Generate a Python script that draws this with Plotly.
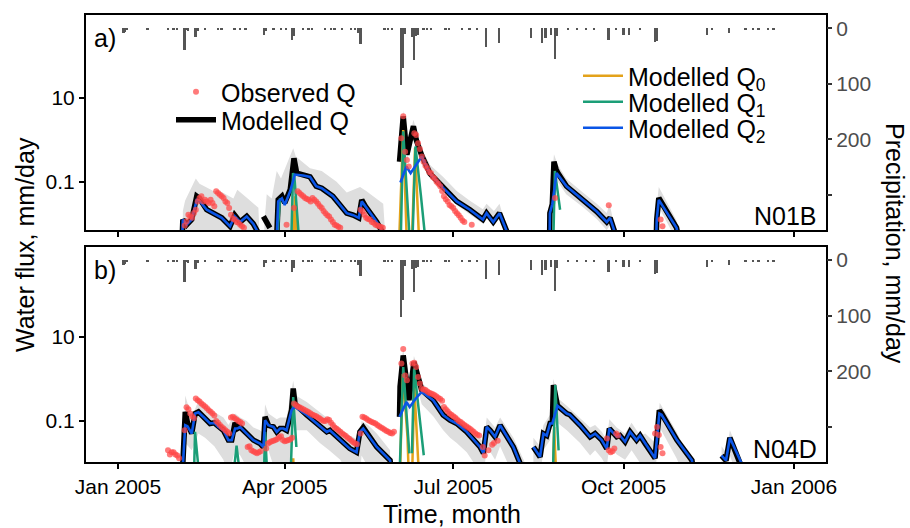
import plotly.graph_objects as go
import pandas as pd

BASE = pd.Timestamp("2005-01-01")

# ---------------- data (days counted from 1 Jan 2005) ----------------
tick_dates = ["2005-01-01", "2005-04-01", "2005-07-01", "2005-10-01", "2006-01-01"]
tick_labels = ["Jan 2005", "Apr 2005", "Jul 2005", "Oct 2005", "Jan 2006"]

precip_day = [3, 4, 5, 16, 27, 30, 32, 36, 37, 38, 42, 43, 47, 54, 56, 63, 66, 69, 79, 80, 84, 88, 91,
              94, 95, 100, 103, 105, 112, 115, 117, 121, 126, 128, 130, 131, 144, 146, 148, 153, 154,
              155, 159, 160, 161, 162, 165, 167, 169, 177, 179, 186, 190, 194, 199, 206, 223, 229, 231,
              234, 236, 237, 243, 248, 253, 257, 265, 269, 273, 276, 282, 290, 291, 318, 321, 330, 339,
              343, 346, 351, 354]
precip_mm = [9, 7, 3, 2, 2, 2, 2, 39, 3, 4, 15, 4, 2, 2, 2, 2, 2, 2, 12, 4, 2, 2, 2,
             21, 14, 3, 2, 2, 2, 3, 2, 2, 2, 3, 8, 28, 2, 3, 2, 102, 72,
             10, 15, 57, 14, 12, 2, 3, 2, 2, 3, 2, 3, 2, 33, 26, 18, 27, 18,
             12, 55, 14, 2, 2, 2, 3, 21, 3, 12, 12, 3, 24, 22, 12, 2, 8, 2,
             2, 2, 3, 2]

# ----- panel a: N01B -----
qa_day = [34.5, 35, 37, 39.8, 42.5, 44, 47.9, 51.5, 56, 60.5, 63, 65.9, 69.5, 73, 75.8, None,
          78.5, 82, None,
          85.5, 86.5, 88.5, 90, 93, 95, 96.5, 100, 103.7, 107, 110, 116, 123.5, 127, 130, 131.6, 133.5, 139.7, 144, None,
          152, 154, 156, 159.5, 161, 164, 168.5, 175.6, 182.9, 190, 197, 199, 202.6, 206, 211, None,
          233, 233.2, 234.5, 235.4, 236.5, 237.5, 242.2, 251, 258.5, 263.9, 265.7, 269, None,
          290.5, 290.9, 292, 301.6, 302.5]
qa_val = [0.003, 0.0126, 0.0094, 0.0126, 0.045, 0.04, 0.0215, 0.0178, 0.0138, 0.0087, 0.016, 0.011, 0.0149, 0.01, 0.006, None,
          0.0149, 0.008, None,
          0.003, 0.037, 0.045, 0.031, 0.065, 0.36, 0.16, 0.148, 0.13, 0.078, 0.07, 0.045, 0.0178, 0.016, 0.0138, 0.037, 0.0262, 0.011, 0.005, None,
          0.3, 3.6, 0.44, 2.1, 1.0, 0.42, 0.155, 0.071, 0.034, 0.0215, 0.0126, 0.0178, 0.011, 0.0178, 0.005, None,
          0.003, 0.0178, 0.029, 0.3, 0.2, 0.16, 0.078, 0.037, 0.0195, 0.011, 0.0138, 0.005, None,
          0.003, 0.0126, 0.041, 0.008, 0.005]

q2a_day = [34.5, 35, 37, 39.8, 42.5, 44, 47.9, 51.5, 56, 60.5, 63, 65.9, 69.5, 73, 75.8, None,
           85.5, 86.5, 88.5, 90, 93, 95.5, 100, 103.7, 107, 110, 116, 123.5, 127, 130, 131.6, 133.5, 139.7, 144, None,
           152.5, 155.7, 158, 164, 168.5, 175.6, 182.9, 190, 197, 199, 202.6, 206, 211, None,
           233, 233.2, 234.5, 236.8, 242.2, 251, 258.5, 263.9, 265.7, 269, None,
           290.5, 290.9, 292, 301.6, 302.5]
q2a_val = [0.003, 0.0126, 0.0094, 0.0126, 0.037, 0.035, 0.0215, 0.0178, 0.0138, 0.0087, 0.015, 0.011, 0.0149, 0.01, 0.006, None,
           0.003, 0.034, 0.04, 0.028, 0.06, 0.148, 0.14, 0.13, 0.078, 0.07, 0.045, 0.0178, 0.016, 0.0138, 0.034, 0.0262, 0.011, 0.005, None,
           0.096, 0.23, 0.16, 0.4, 0.155, 0.071, 0.034, 0.0215, 0.0126, 0.0178, 0.011, 0.0178, 0.005, None,
           0.003, 0.0178, 0.029, 0.16, 0.078, 0.037, 0.0195, 0.011, 0.0138, 0.005, None,
           0.003, 0.0126, 0.037, 0.008, 0.005]

q1a_day = [85.7, 87.5, None, 93.5, 94.5, 95.3, 97.3, 98, None, 152.6, 154, 157.7, None,
           158.9, 160.6, 163.5, 166.3, None, 235, 235.9, 238.7]
q1a_val = [0.003, 0.04, None, 0.003, 0.16, 0.12, 0.011, 0.003, None, 0.003, 1.58, 0.003, None,
           0.003, 0.69, 0.049, 0.003, None, 0.003, 0.18, 0.0215]

q0a_day = [94.5, 95.6, 96.6, None, 151.7, 154, 156, None, 158.6, 160.4, 162.7]
q0a_val = [0.003, 0.045, 0.003, None, 0.003, 1.7, 0.003, None, 0.003, 0.63, 0.003]

obsa_day = [*range(36, 69), 91, 95, *range(97, 121), *range(131, 144),
            153, 154, 155, 156, 157, *range(160, 188), 191, 236, 265, 293, 294]
obsa_val = [0.009, 0.0115, 0.0164, 0.0149, 0.0138, 0.018, 0.0215, 0.034, 0.041, 0.045,
            0.034, 0.037, 0.034, 0.031, 0.037, 0.031, 0.026, 0.059, 0.054, 0.049,
            0.045, 0.041, 0.034, 0.031, 0.0235, 0.0164, 0.0132, 0.0126, 0.011, 0.0105,
            0.0095, 0.0087, 0.008,
            0.0095, 0.0235,
            0.059, 0.054, 0.049, 0.045, 0.041, 0.039, 0.037, 0.034, 0.041, 0.037,
            0.034, 0.03, 0.026, 0.0235, 0.02, 0.0178, 0.016, 0.0149, 0.0126, 0.011,
            0.0095, 0.009, 0.0085, 0.008,
            0.0215, 0.0195, 0.0164, 0.0138, 0.013, 0.0126, 0.011, 0.0105, 0.0095, 0.009, 0.0087, 0.0083, 0.008,
            1.08, 3.6, 0.52, 0.33, 0.23,
            1.42, 1.3, 0.82, 0.6, 0.4, 0.3, 0.24, 0.21, 0.17, 0.16,
            0.13, 0.12, 0.1, 0.09, 0.078, 0.06, 0.045, 0.038, 0.034, 0.028,
            0.026, 0.0235, 0.02, 0.0178, 0.016, 0.0138, 0.012, 0.011,
            0.0095, 0.041, 0.0275, 0.0126, 0.0087]

riba_day = [35, 36.2, 42, 44, 51.5, 55, 62.3, 64.4, 70, 75.8, 76.5, None,
            79, 80.3, 83, 85.7, 88, 94.6, 96, 103.7, 110, 118, 123.5, 130.7, 134, 143.2, 144.5, None,
            152, 154, 156, 159.5, 164, 168.5, 175.6, 182.9, 190, 197, 199, 203, 206, 211, None,
            233, 235.4, 237.5, 242, 251, 258.5, 263.9, 265.5, 269.5, None,
            290.5, 292, 296, 301.6, 303]
riba_hi = [0.02, 0.035, 0.12, 0.09, 0.06, 0.06, 0.04, 0.064, 0.04, 0.024, 0.004, None,
           0.01, 0.05, 0.04, 0.18, 0.12, 0.63, 0.4, 0.21, 0.18, 0.1, 0.055, 0.075, 0.06, 0.03, 0.004, None,
           0.4, 5.0, 0.6, 3.0, 0.6, 0.25, 0.13, 0.06, 0.035, 0.022, 0.03, 0.02, 0.03, 0.005, None,
           0.025, 0.45, 0.25, 0.12, 0.055, 0.03, 0.018, 0.03, 0.004, None,
           0.02, 0.075, 0.035, 0.012, 0.004]
riba_lo = [0.001, 0.001, 0.001, 0.001, 0.001, 0.001, 0.001, 0.001, 0.001, 0.001, 0.001, None,
           0.001, 0.001, 0.001, 0.001, 0.001, 0.001, 0.001, 0.001, 0.001, 0.001, 0.001, 0.001, 0.001, 0.001, 0.001, None,
           0.25, 2.5, 0.3, 1.5, 0.35, 0.13, 0.06, 0.028, 0.017, 0.01, 0.014, 0.009, 0.014, 0.003, None,
           0.012, 0.2, 0.1, 0.05, 0.025, 0.013, 0.007, 0.009, 0.002, None,
           0.008, 0.025, 0.012, 0.004, 0.002]

# ----- panel b: N04D -----
qb_day = [34.7, 36.3, 37.5, 39.8, 41.6, 43.4, 47, 49.7, 52, 54.2, 56.9, 59.6, 61.4, 63.2, 64.5, 65.9, 69.5, 73.1,
          76.7, 78.5, 79.4, 81.2, 83.9, 85.7, 87.5, 89.3, 91, 93.7, 94.6, 95.6, 101.9, 109, 112.7, 114.4, 125.2,
          128.8, 130.6, 132.4, 139.7, 146.9, 148, None,
          152, 152.3, 154, 157.1, 159.8, 162.2, 164, 170.2, 175.6, 179.3, 182.9, 188.3, 195.5, 197.3, 199.1, 200.9,
          203.6, 206.3, 213.5, 219.8, None,
          224.3, 227.9, 229.7, 231.5, 233.3, 234.5, 235.1, 236.3, 237.3, 242.3, 244, 249.5, 254.9, 257.6, 261.2,
          263.9, 265.3, 269.3, 271, 273.8, 276.5, 280, 281.9, 284.6, 290, 292.3, 293.5, 301.8, 309.9, 311, None,
          325.9, 328.3, 330.4, 337.6, 338.5]
qb_val = [0.005, 0.164, 0.09, 0.05, 0.15, 0.164, 0.114, 0.087, 0.09, 0.072, 0.06, 0.035, 0.035, 0.09, 0.066, 0.072, 0.05, 0.035,
          0.029, 0.024, 0.125, 0.079, 0.072, 0.055, 0.066, 0.066, 0.06, 0.18, 0.59, 0.25, 0.138, 0.075, 0.055, 0.06, 0.022,
          0.018, 0.055, 0.07, 0.024, 0.0116, 0.005, None,
          0.125, 0.65, 3.6, 0.31, 2.5, 1.1, 0.54, 0.31, 0.138, 0.104, 0.087, 0.055, 0.024, 0.017, 0.072, 0.06,
          0.042, 0.079, 0.024, 0.005, None,
          0.024, 0.014, 0.05, 0.045, 0.087, 0.087, 0.71, 0.35, 0.23, 0.15, 0.14, 0.079, 0.042, 0.05, 0.035,
          0.022, 0.066, 0.042, 0.045, 0.032, 0.055, 0.035, 0.045, 0.029, 0.013, 0.18, 0.15, 0.035, 0.0116, 0.005, None,
          0.015, 0.0115, 0.04, 0.008, 0.005]

q2b_day = [34.7, 36.3, 37.5, 39.8, 41.6, 43.4, 47, 49.7, 52, 54.2, 56.9, 59.6, 61.4, 63.2, 64.5, 65.9, 69.5, 73.1,
           76.7, 78.5, 79.4, 81.2, 83.9, 85.7, 87.5, 89.3, 91, 93.7, 94.6, 95.6, 101.9, 109, 112.7, 114.4, 125.2,
           128.8, 130.6, 132.4, 139.7, 146.9, 148, None,
           152, 155.7, 157.5, 161.4, 164, 170.2, 175.6, 179.3, 182.9, 188.3, 195.5, 197.3, 199.1, 200.9,
           203.6, 206.3, 213.5, 219.8, None,
           224.3, 227.9, 229.7, 231.5, 233.3, 234.5, 237.3, 242.3, 244, 249.5, 254.9, 257.6, 261.2,
           263.9, 265.3, 269.3, 271, 273.8, 276.5, 280, 281.9, 284.6, 290, 292.3, 293.5, 301.8, 309.9, 311, None,
           325.9, 328.3, 330.4, 337.6, 338.5]
q2b_val = [0.005, 0.079, 0.075, 0.05, 0.15, 0.16, 0.114, 0.087, 0.09, 0.072, 0.06, 0.035, 0.035, 0.066, 0.066, 0.072, 0.05, 0.035,
           0.029, 0.024, 0.104, 0.079, 0.072, 0.055, 0.066, 0.066, 0.06, 0.18, 0.2, 0.215, 0.138, 0.075, 0.055, 0.06, 0.022,
           0.018, 0.055, 0.066, 0.024, 0.0116, 0.005, None,
           0.125, 0.28, 0.215, 0.37, 0.49, 0.31, 0.138, 0.104, 0.087, 0.055, 0.024, 0.017, 0.072, 0.06,
           0.042, 0.079, 0.024, 0.005, None,
           0.024, 0.014, 0.05, 0.045, 0.087, 0.087, 0.23, 0.15, 0.14, 0.079, 0.042, 0.05, 0.035,
           0.022, 0.066, 0.042, 0.045, 0.032, 0.055, 0.035, 0.045, 0.029, 0.013, 0.15, 0.14, 0.035, 0.0116, 0.005, None,
           0.015, 0.0115, 0.04, 0.008, 0.005]

q1b_day = [41, 41.6, 43.8, None, 62.3, 64, 65.9, None, 78.8, 79.4, 80.6, None, 93.2, 94.6, 96.3, None,
           152, 154, 157.3, None, 158.7, 159.9, 165.1, None, 234.8, 236.1, 237.9]
q1b_val = [0.005, 0.055, 0.005, None, 0.005, 0.026, 0.005, None, 0.005, 0.055, 0.005, None, 0.005, 0.37, 0.024, None,
           0.005, 1.9, 0.017, None, 0.017, 1.77, 0.0153, None, 0.005, 0.71, 0.02]

q0b_day = [94.3, 94.6, 95, None, 152.2, 153.8, 156.3, 157, None, 158.8, 160, 162.5, None, 234.9, 235.5, 236.6]
q0b_val = [0.005, 0.013, 0.005, None, 0.005, 1.3, 0.042, 0.005, None, 0.005, 0.65, 0.005, None, 0.005, 0.072, 0.005]

obsb_day = [*range(27, 34), *range(36, 68), *range(70, 78), *range(80, 95), *range(95, 130), *range(131, 150),
            153, 154, 155, 156, 159, 160, 161, 162, *range(163, 196), 197, 198, 200, 202, 203, 205,
            *range(264, 271), 290, 291, 292, 293, 294]
obsb_val = [0.02, 0.016, 0.018, 0.018, 0.016, 0.015, 0.013,
            0.06, 0.21, 0.19, 0.15, 0.13, 0.115, 0.34, 0.31, 0.29, 0.26, 0.24, 0.22, 0.2, 0.18, 0.165, 0.15,
            0.135, 0.1, 0.09, 0.08, 0.072, 0.066, 0.06, 0.055, 0.05, 0.12, 0.125, 0.115, 0.108, 0.1, 0.094, 0.087,
            0.024, 0.025, 0.02, 0.019, 0.018, 0.017, 0.018, 0.019,
            0.022, 0.029, 0.031, 0.033, 0.034, 0.035, 0.037, 0.041, 0.043, 0.035, 0.033, 0.034, 0.035, 0.036, 0.04,
            0.26, 0.24, 0.22, 0.21, 0.2, 0.19, 0.18, 0.17, 0.16, 0.15, 0.14, 0.135, 0.13, 0.12, 0.114, 0.105, 0.1,
            0.1, 0.11, 0.105, 0.09, 0.08, 0.07, 0.065, 0.06, 0.055, 0.05, 0.047, 0.044, 0.04, 0.037, 0.034, 0.031,
            0.029, 0.028,
            0.05, 0.125, 0.12, 0.114, 0.105, 0.1, 0.094, 0.09, 0.087, 0.08, 0.075, 0.07, 0.066, 0.062, 0.058,
            0.055, 0.052, 0.05, 0.055,
            2.3, 5.1, 1.2, 0.93, 2.3, 2.4, 1.9, 1.1,
            0.78, 0.59, 0.56, 0.54, 0.5, 0.47, 0.45, 0.43, 0.41, 0.38, 0.35, 0.33, 0.3, 0.215, 0.19, 0.17, 0.15,
            0.14, 0.13, 0.12, 0.11, 0.1, 0.094, 0.087, 0.08, 0.075, 0.07, 0.065, 0.06, 0.055, 0.05, 0.047, 0.045,
            0.024, 0.015, 0.02, 0.027, 0.03, 0.034,
            0.038, 0.02, 0.018, 0.019, 0.022, 0.05, 0.045,
            0.05, 0.072, 0.046, 0.024, 0.017]

ribb_day = [35, 36.3, 39.8, 43.4, 47, 52, 56.9, 59.6, 63.2, 66, 69.5, 73.1, 76.7, 78.5, 79.4, 81.2, 85.7, 87.5,
            91, 94.6, 96, 101.9, 109, 114, 120, 125, 130, 131.5, 135, 139.7, 146.9, None,
            152, 154, 157, 159.8, 162.2, 164, 170.2, 175.6, 179.3, 182.9, 188.3, 195.5, 197.3, 199.1, 203.6,
            206.3, 213.5, 219.8, None,
            224.3, 227.9, 229.7, 233.3, 235.1, 237.3, 242.3, 249.5, 254.9, 257.6, 261.2, 263.9, 265.3, 269.3,
            273.8, 277.3, 281.9, 284.7, 290.1, 292.5, 301.6, 309.7, None,
            325.9, 328.3, 330.4, 337.6]
ribb_hi = [0.01, 0.4, 0.12, 0.3, 0.22, 0.16, 0.12, 0.08, 0.15, 0.12, 0.1, 0.07, 0.06, 0.05, 0.25, 0.15, 0.11, 0.12,
           0.12, 0.9, 0.4, 0.28, 0.16, 0.11, 0.07, 0.045, 0.035, 0.1, 0.08, 0.05, 0.02, None,
           1.0, 5.5, 0.5, 3.5, 1.6, 0.8, 0.45, 0.22, 0.16, 0.13, 0.085, 0.04, 0.03, 0.12, 0.07,
           0.12, 0.04, 0.01, None,
           0.04, 0.025, 0.08, 0.14, 1.0, 0.35, 0.23, 0.12, 0.07, 0.08, 0.055, 0.035, 0.11, 0.07,
           0.05, 0.09, 0.045, 0.05, 0.03, 0.27, 0.055, 0.01, None,
           0.025, 0.018, 0.06, 0.01]
ribb_lo = [0.001, 0.03, 0.02, 0.05, 0.04, 0.025, 0.012, 0.005, 0.02, 0.015, 0.008, 0.003, 0.001, 0.001, 0.03, 0.02,
           0.005, 0.001, 0.001, 0.1, 0.06, 0.06, 0.03, 0.02, 0.012, 0.005, 0.002, 0.015, 0.008, 0.002, 0.001, None,
           0.3, 2.0, 0.15, 1.2, 0.5, 0.25, 0.13, 0.06, 0.04, 0.03, 0.018, 0.006, 0.004, 0.025, 0.012,
           0.025, 0.005, 0.001, None,
           0.01, 0.005, 0.02, 0.035, 0.3, 0.09, 0.06, 0.03, 0.015, 0.02, 0.013, 0.008, 0.025, 0.016,
           0.012, 0.02, 0.01, 0.01, 0.006, 0.07, 0.013, 0.002, None,
           0.006, 0.004, 0.015, 0.002]

# ---------------- helpers ----------------
def to_dates(days):
    return [None if d is None else BASE + pd.Timedelta(days=d) for d in days]


def ribbon(days, hi, lo):
    xs, ys, seg = [], [], []
    for d, h, l in list(zip(days, hi, lo)) + [(None, None, None)]:
        if d is None:
            if seg:
                xs += [s[0] for s in seg] + [s[0] for s in seg[::-1]] + [None]
                ys += [s[1] for s in seg] + [s[2] for s in seg[::-1]] + [None]
            seg = []
        else:
            seg.append((d, h, l))
    return to_dates(xs), ys


W, H = 910, 528
ML, MR, MT, MB = 86, 84, 15, 66
PW, PH = W - ML - MR, H - MT - MB


def px_x(X):
    return (X - ML) / PW


def px_y(Y):
    return (H - MB - Y) / PH


FONT = "Liberation Sans, Arial, Helvetica, sans-serif"
C_Q0 = "#E3A21A"
C_Q1 = "#1B9E77"
C_Q2 = "#0A55E6"
C_OBS = "rgba(255,70,70,0.72)"
C_RIB = "#DEDEDE"
C_BAR = "#555555"

fig = go.Figure()


def add_panel(xa, ya, ypa, rib, q, q0, q1, q2, obs, show):
    rx, ry = ribbon(*rib)
    fig.add_trace(go.Scatter(x=rx, y=ry, xaxis=xa, yaxis=ya, mode="lines", fill="toself",
                             fillcolor=C_RIB, line=dict(width=0), hoverinfo="skip", showlegend=False))
    fig.add_trace(go.Bar(x=to_dates(precip_day), y=precip_mm, xaxis=xa, yaxis=ypa,
                         marker=dict(color=C_BAR, line=dict(width=0)), width=1.0 * 86400000,
                         showlegend=False))
    fig.add_trace(go.Scatter(x=to_dates(q[0]), y=q[1], xaxis=xa, yaxis=ya, mode="lines",
                             line=dict(color="black", width=5.5), name="Modelled Q",
                             legend="legend2", showlegend=show))
    fig.add_trace(go.Scatter(x=to_dates(q0[0]), y=q0[1], xaxis=xa, yaxis=ya, mode="lines",
                             line=dict(color=C_Q0, width=2.5), name="Modelled Q<sub>0</sub>",
                             legend="legend3", showlegend=show))
    fig.add_trace(go.Scatter(x=to_dates(q1[0]), y=q1[1], xaxis=xa, yaxis=ya, mode="lines",
                             line=dict(color=C_Q1, width=2.5), name="Modelled Q<sub>1</sub>",
                             legend="legend4", showlegend=show))
    fig.add_trace(go.Scatter(x=to_dates(q2[0]), y=q2[1], xaxis=xa, yaxis=ya, mode="lines",
                             line=dict(color=C_Q2, width=2.6), name="Modelled Q<sub>2</sub>",
                             legend="legend5", showlegend=show))
    fig.add_trace(go.Scatter(x=to_dates(obs[0]), y=obs[1], xaxis=xa, yaxis=ya, mode="markers",
                             marker=dict(color=C_OBS, size=6, line=dict(width=0)), name="Observed Q",
                             legend="legend", showlegend=show))


add_panel("x2", "y3", "y4", (riba_day, riba_hi, riba_lo), (qa_day, qa_val), (q0a_day, q0a_val),
          (q1a_day, q1a_val), (q2a_day, q2a_val), (obsa_day, obsa_val), True)
add_panel("x", "y", "y2", (ribb_day, ribb_hi, ribb_lo), (qb_day, qb_val), (q0b_day, q0b_val),
          (q1b_day, q1b_val), (q2b_day, q2b_val), (obsb_day, obsb_val), False)

xrange = ["2004-12-14 17:00", "2006-01-18 07:00"]
tickfont = dict(family=FONT, size=21, color="black")
xcommon = dict(type="date", range=xrange, tickvals=tick_dates, ticktext=tick_labels,
               ticks="outside", ticklen=5, tickwidth=1.5, tickcolor="black",
               showline=True, linecolor="black", linewidth=2, mirror=True,
               showgrid=False, zeroline=False, tickfont=tickfont)
ylog = dict(type="log", tickvals=[0.1, 10], ticktext=["0.1", "10"], ticks="outside", ticklen=5,
            tickwidth=1.5, tickcolor="black", showline=True, linecolor="black", linewidth=2,
            mirror=True, showgrid=False, zeroline=False, tickfont=tickfont)
yprec = dict(range=[363, -24], tickvals=[0, 100, 200, 300], ticktext=["0", "100", "200", " "],
             ticks="outside", ticklen=5, tickwidth=1.5, tickcolor="#333333", side="right",
             showline=False, showgrid=False, zeroline=False,
             tickfont=dict(family=FONT, size=21, color="#4D4D4D"))

fig.update_layout(
    width=W, height=H, autosize=False,
    margin=dict(l=ML, r=MR, t=MT, b=MB),
    paper_bgcolor="white", plot_bgcolor="white",
    font=dict(family=FONT, size=21, color="black"),
    xaxis=dict(domain=[0, 1], anchor="y", **xcommon),
    xaxis2=dict(domain=[0, 1], anchor="y3", matches="x", showticklabels=False,
                **{k: v for k, v in xcommon.items() if k != "tickfont"}),
    yaxis=dict(domain=[0, px_y(246.7)], anchor="x", range=[-1.976, 3.14], **ylog),
    yaxis2=dict(overlaying="y", anchor="x", **yprec),
    yaxis3=dict(domain=[px_y(230), 1], anchor="x2", range=[-2.15, 2.97], **ylog),
    yaxis4=dict(overlaying="y3", anchor="x2", **yprec),
    bargap=0,
    hovermode=False,
)

leg_font = dict(family=FONT, size=25, color="black")
def leg(text_x, row_y):
    return dict(x=px_x(text_x - 50), xanchor="left", y=px_y(row_y), yanchor="middle",
                bgcolor="rgba(0,0,0,0)", borderwidth=0, font=leg_font, itemwidth=40)

fig.update_layout(legend=leg(221, 92), legend2=leg(221, 120), legend3=leg(628, 76),
                  legend4=leg(628, 102), legend5=leg(628, 128))

ann_font = dict(family=FONT, size=25, color="black")
annotations = [
    dict(text="a)", x=px_x(92), y=px_y(38), xanchor="left", yanchor="middle"),
    dict(text="b)", x=px_x(92), y=px_y(270), xanchor="left", yanchor="middle"),
    dict(text="N01B", x=px_x(819), y=px_y(216), xanchor="right", yanchor="middle"),
    dict(text="N04D", x=px_x(819), y=px_y(449), xanchor="right", yanchor="middle"),
    dict(text="Water flux, mm/day", x=px_x(25), y=px_y(245), xanchor="center", yanchor="middle",
         textangle=-90),
    dict(text="Precipitation, mm/day", x=px_x(895), y=px_y(243), xanchor="center", yanchor="middle",
         textangle=90),
    dict(text="Time, month", x=px_x(452), y=px_y(514), xanchor="center", yanchor="middle"),
]
for a in annotations:
    a.update(xref="paper", yref="paper", showarrow=False, font=ann_font)
fig.update_layout(annotations=annotations)

fig.write_html("out.html", config={"displayModeBar": False},
               post_script="document.body.style.margin='0';document.body.style.padding='0';")
